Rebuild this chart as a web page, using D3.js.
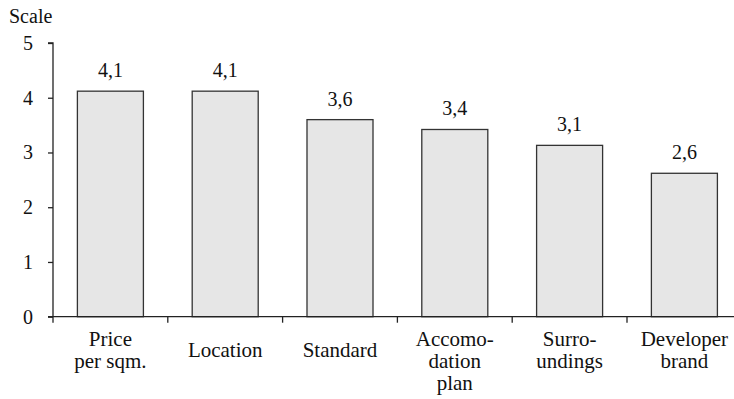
<!DOCTYPE html>
<html><head><meta charset="utf-8">
<script src="https://cdn.jsdelivr.net/npm/d3@7/dist/d3.min.js"></script>
</head><body style="margin:0;background:#fff">
<svg id="c" width="734" height="399" style="font-family:'Liberation Serif',Tinos,'Times New Roman',serif"></svg>
<script>
const categories = [["Price","per sqm."],["Location"],["Standard"],["Accomo-","dation","plan"],["Surro-","undings"],["Developer","brand"]];
const values = [4.12, 4.12, 3.60, 3.42, 3.13, 2.62];
const valueLabels = ["4,1","4,1","3,6","3,4","3,1","2,6"];
const yTicks = [0,1,2,3,4,5];

const FONT = "'Liberation Serif', Tinos, 'Times New Roman', serif";
const svg = d3.select("#c");
const x0 = 53, y0 = 316.7, yTop = 43;
const band = 114.8;
const x = d3.scaleBand().domain(d3.range(6)).range([x0, x0 + band*6]).paddingInner(0.425).paddingOuter(0.2125);
const y = d3.scaleLinear().domain([0,5]).range([y0, yTop]);

// bars
svg.selectAll("rect.bar").data(values).join("rect")
  .attr("x",(d,i)=>x(i)).attr("y",d=>y(d))
  .attr("width",x.bandwidth()).attr("height",d=>y0-y(d))
  .attr("fill","#e6e6e6").attr("stroke","#333").attr("stroke-width",1.3);

// y axis
const ya = svg.append("g").attr("transform",`translate(${x0},0)`)
  .call(d3.axisLeft(y).tickValues(yTicks).tickSize(5).tickPadding(15).tickFormat(d3.format("d")));
ya.attr("font-family",null).attr("font-size",null);
ya.select(".domain").attr("stroke","#222").attr("stroke-width",1.3).attr("d",`M-5,${yTop}H0V${y0}`);
ya.selectAll(".tick line").attr("stroke","#222").attr("stroke-width",1.3);
ya.selectAll(".tick text").style("font-size","20px").style("font-family",FONT).attr("fill","#111");

// x axis line and ticks at band boundaries
const bounds = d3.range(7).map(i=>x0+i*band);
svg.append("line").attr("x1",x0-5).attr("x2",734).attr("y1",y0).attr("y2",y0).attr("stroke","#222").attr("stroke-width",1.3);
svg.selectAll("line.bt").data(bounds).join("line")
  .attr("x1",d=>d).attr("x2",d=>d).attr("y1",y0).attr("y2",y0+6)
  .attr("stroke","#222").attr("stroke-width",1.3);

// category labels
const cl = svg.selectAll("text.cat").data(categories).join("text")
  .attr("text-anchor","middle").style("font-size","21px").style("font-family",FONT).attr("fill","#111")
  .attr("x",(d,i)=>x(i)+x.bandwidth()/2).attr("y",(d)=> d.length===1 ? 357 : 346);
cl.selectAll("tspan").data(d=>d).join("tspan")
  .attr("x",function(){return this.parentNode.getAttribute("x");})
  .attr("dy",(d,i)=>i===0?0:22).text(d=>d);

// value labels
svg.selectAll("text.val").data(values).join("text")
  .attr("text-anchor","middle").style("font-size","20px").style("font-family",FONT).attr("fill","#111")
  .attr("x",(d,i)=>x(i)+x.bandwidth()/2).attr("y",d=>y(d)-14)
  .text((d,i)=>valueLabels[i]);

// axis title
svg.append("text").attr("x",9).attr("y",23).style("font-size","20px").style("font-family",FONT).attr("fill","#111").text("Scale");
</script>
</body></html>
